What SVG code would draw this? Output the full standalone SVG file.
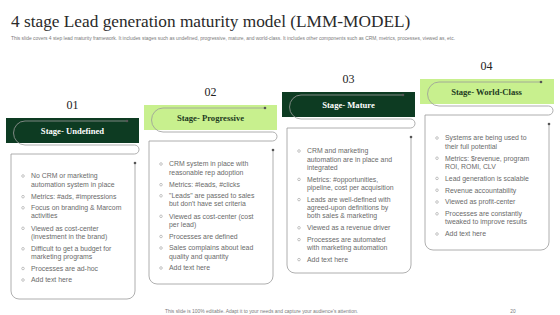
<svg xmlns="http://www.w3.org/2000/svg" width="560" height="315" viewBox="0 0 560 315">
<style>
.title{font-family:"Liberation Serif",serif;font-size:17.3px;fill:#2a2a2a}
.sub{font-family:"Liberation Sans",Arial,sans-serif;font-size:4.8px;fill:#7a7a7a}
.num{font-family:"Liberation Serif",serif;font-size:12px;fill:#222;text-anchor:middle}
.bandD{fill:#0d3b22}
.bandL{fill:#c8f08e}
.lblD{font-family:"Liberation Serif",serif;font-weight:bold;font-size:8.6px;fill:#ffffff;text-anchor:middle}
.lblL{font-family:"Liberation Serif",serif;font-weight:bold;font-size:8.6px;fill:#1d3a1f;text-anchor:middle}
.outline{fill:none;stroke:#9a9a9a;stroke-width:0.8}
.dot{fill:#555}
.bul{fill:none;stroke:#8a8a8a;stroke-width:0.5}
.txt{font-family:"Liberation Sans",Arial,sans-serif;font-size:6.9px;fill:#6a6a6a}
.foot{font-family:"Liberation Sans",Arial,sans-serif;font-size:4.8px;fill:#7a7a7a}
</style>
<defs>
<circle id="b" r="1.3" class="bul"/>
</defs>
<rect width="560" height="315" fill="#ffffff"/>
<text class="title" x="11" y="26.7">4 stage Lead generation maturity model (LMM-MODEL)</text>
<text class="sub" x="11" y="40" textLength="444" lengthAdjust="spacingAndGlyphs">This slide covers 4 step lead maturity framework. It includes stages such as undefined, progressive, mature, and world-class. It includes other components such as CRM, metrics, processes, viewed as, etc.</text>

<g id="stage1">
<text class="num" x="72.5" y="109">01</text>
<rect class="bandD" x="6" y="118" width="133" height="25"/>
<text class="lblD" x="72.5" y="133.5">Stage- Undefined</text>
</g>
<g id="stage2">
<text class="num" x="210.5" y="96">02</text>
<rect class="bandL" x="144" y="105" width="133" height="25"/>
<text class="lblL" x="210.5" y="120.5">Stage- Progressive</text>
</g>
<g id="stage3">
<text class="num" x="348.5" y="83">03</text>
<rect class="bandD" x="282" y="92" width="133" height="25"/>
<text class="lblD" x="348.5" y="107.5">Stage- Mature</text>
</g>
<g id="stage4">
<text class="num" x="486.5" y="70">04</text>
<rect class="bandL" x="420" y="79" width="134" height="25"/>
<text class="lblL" x="486.5" y="94.5">Stage- World-Class</text>
</g>

<g id="connectors">
<path class="outline" d="M127,121 H25 A11,11.5 0 0 0 25,145 H134.5 A4.5,4.5 0 0 1 134.5,154 H11 V291 A8,8 0 0 0 19,299 H127 A8,8 0 0 0 135,291 V163"/>
<circle class="dot" cx="127" cy="121" r="1.3"/>
<circle class="dot" cx="135" cy="163" r="1.3"/>
<path class="outline" d="M265,108 H163 A11,11.5 0 0 0 163,132 H272.5 A4.5,4.5 0 0 1 272.5,141 H149 V276 A8,8 0 0 0 157,284 H265 A8,8 0 0 0 273,276 V150"/>
<circle class="dot" cx="265" cy="108" r="1.3"/>
<circle class="dot" cx="273" cy="150" r="1.3"/>
<path class="outline" d="M403,95 H301 A11,11.5 0 0 0 301,119 H410.5 A4.5,4.5 0 0 1 410.5,128 H287 V265 A8,8 0 0 0 295,273 H403 A8,8 0 0 0 411,265 V137"/>
<circle class="dot" cx="403" cy="95" r="1.3"/>
<circle class="dot" cx="411" cy="137" r="1.3"/>
<path class="outline" d="M541,82 H439 A11,11.5 0 0 0 439,106 H548.5 A4.5,4.5 0 0 1 548.5,115 H425 V242 A8,8 0 0 0 433,250 H541 A8,8 0 0 0 549,242 V124"/>
<circle class="dot" cx="541" cy="82" r="1.3"/>
<circle class="dot" cx="549" cy="124" r="1.3"/>
</g>

<g id="list1">
<use href="#b" x="23" y="176"/><text class="txt" x="31" y="178.3">No CRM or marketing</text>
<text class="txt" x="31" y="186.5">automation system in place</text>
<use href="#b" x="23" y="196.7"/><text class="txt" x="31" y="199">Metrics: #ads, #impressions</text>
<use href="#b" x="23" y="207.8"/><text class="txt" x="31" y="210.1">Focus on branding &amp; Marcom</text>
<text class="txt" x="31" y="218.3">activities</text>
<use href="#b" x="23" y="228.3"/><text class="txt" x="31" y="230.6">Viewed as cost-center</text>
<text class="txt" x="31" y="238.8">(investment in the brand)</text>
<use href="#b" x="23" y="248.8"/><text class="txt" x="31" y="251.1">Difficult to get a budget for</text>
<text class="txt" x="31" y="259.3">marketing programs</text>
<use href="#b" x="23" y="268.5"/><text class="txt" x="31" y="270.8">Processes are ad-hoc</text>
<use href="#b" x="23" y="280"/><text class="txt" x="31" y="282.3">Add text here</text>
</g>

<g id="list2">
<use href="#b" x="161" y="164"/><text class="txt" x="169" y="166.3">CRM system in place with</text>
<text class="txt" x="169" y="174.5">reasonable rep adoption</text>
<use href="#b" x="161" y="184.7"/><text class="txt" x="169" y="187">Metrics: #leads, #clicks</text>
<use href="#b" x="161" y="195.8"/><text class="txt" x="169" y="198.1">"Leads" are passed to sales</text>
<text class="txt" x="169" y="206.3">but don't have set criteria</text>
<use href="#b" x="161" y="216.3"/><text class="txt" x="169" y="218.6">Viewed as cost-center (cost</text>
<text class="txt" x="169" y="226.8">per lead)</text>
<use href="#b" x="161" y="236.5"/><text class="txt" x="169" y="238.8">Processes are defined</text>
<use href="#b" x="161" y="248"/><text class="txt" x="169" y="250.3">Sales complains about lead</text>
<text class="txt" x="169" y="258.5">quality and quantity</text>
<use href="#b" x="161" y="268"/><text class="txt" x="169" y="270.3">Add text here</text>
</g>

<g id="list3">
<use href="#b" x="299" y="151"/><text class="txt" x="307" y="153.3">CRM and marketing</text>
<text class="txt" x="307" y="161.5">automation are in place and</text>
<text class="txt" x="307" y="169.7">integrated</text>
<use href="#b" x="299" y="179.4"/><text class="txt" x="307" y="181.7">Metrics: #opportunities,</text>
<text class="txt" x="307" y="189.9">pipeline, cost per acquisition</text>
<use href="#b" x="299" y="199.6"/><text class="txt" x="307" y="201.9">Leads are well-defined with</text>
<text class="txt" x="307" y="210.1">agreed-upon definitions by</text>
<text class="txt" x="307" y="218.3">both sales &amp; marketing</text>
<use href="#b" x="299" y="227.8"/><text class="txt" x="307" y="230.1">Viewed as a revenue driver</text>
<use href="#b" x="299" y="239.6"/><text class="txt" x="307" y="241.9">Processes are automated</text>
<text class="txt" x="307" y="250.1">with marketing automation</text>
<use href="#b" x="299" y="259.6"/><text class="txt" x="307" y="261.9">Add text here</text>
</g>

<g id="list4">
<use href="#b" x="437" y="138"/><text class="txt" x="445" y="140.3">Systems are being used to</text>
<text class="txt" x="445" y="148.5">their full potential</text>
<use href="#b" x="437" y="158.2"/><text class="txt" x="445" y="160.5">Metrics: $revenue, program</text>
<text class="txt" x="445" y="168.7">ROI, ROMI, CLV</text>
<use href="#b" x="437" y="178.4"/><text class="txt" x="445" y="180.7">Lead generation is scalable</text>
<use href="#b" x="437" y="190.2"/><text class="txt" x="445" y="192.5">Revenue accountability</text>
<use href="#b" x="437" y="202"/><text class="txt" x="445" y="204.3">Viewed as profit-center</text>
<use href="#b" x="437" y="213.8"/><text class="txt" x="445" y="216.1">Processes are constantly</text>
<text class="txt" x="445" y="224.3">tweaked to improve results</text>
<use href="#b" x="437" y="234"/><text class="txt" x="445" y="236.3">Add text here</text>
</g>

<text class="foot" x="261.5" y="312.5" text-anchor="middle" textLength="193" lengthAdjust="spacingAndGlyphs">This slide is 100% editable. Adapt it to your needs and capture your audience's attention.</text>
<text class="foot" x="513" y="312.5" text-anchor="middle">20</text>
</svg>
